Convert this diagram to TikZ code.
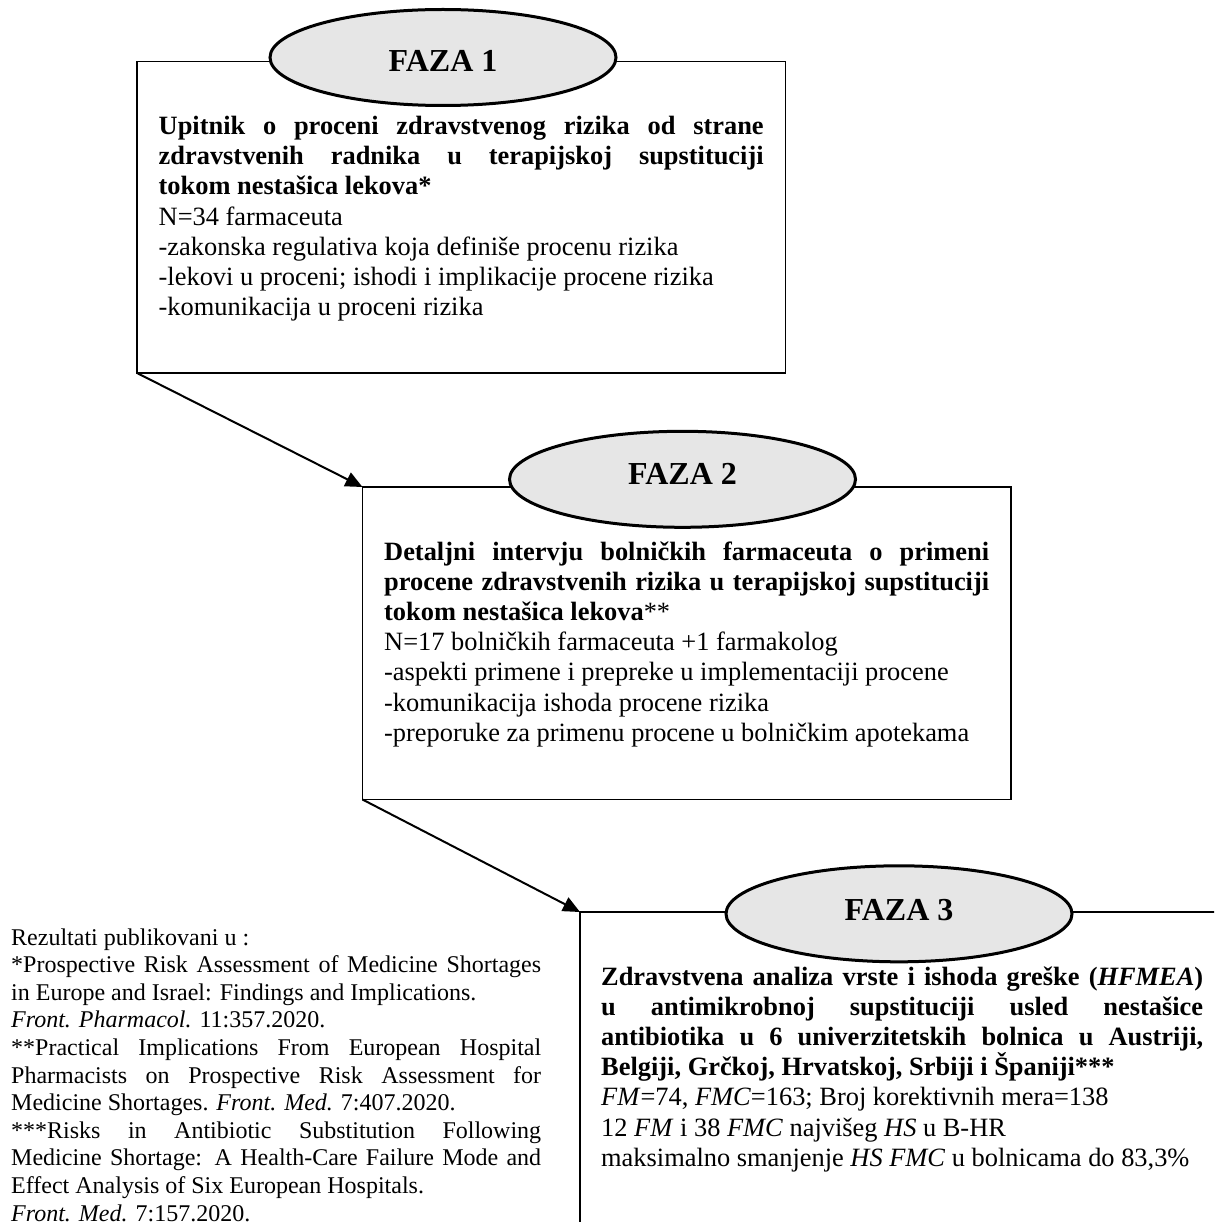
\documentclass[tikz,border=0pt]{standalone}
\usepackage{fontspec}
\setmainfont{Liberation Serif}
\usetikzlibrary{arrows.meta,shapes.geometric}
\definecolor{ellfill}{HTML}{E6E6E6}
\begin{document}
\begin{tikzpicture}[x=1pt,y=-1pt,
  boxnode/.style={draw, line width=1.6pt, minimum width=648.5pt, inner sep=0pt, outer sep=0pt, anchor=north west},
  phase/.style={ellipse, draw, line width=3pt, fill=ellfill, minimum width=346pt, minimum height=96pt, inner sep=0pt, outer sep=0pt},
  phasetext/.style={anchor=base, inner sep=0pt, font=\fontsize{32}{36}\selectfont\bfseries},
  bodytext/.style={anchor=base west, inner sep=0pt, font=\fontsize{26.4}{30.2}\selectfont},
  notetext/.style={anchor=base west, inner sep=0pt, font=\fontsize{24}{27.6}\selectfont},
  conn/.style={line width=2pt, -{Triangle[length=17pt,width=15pt]}},
]
\useasboundingbox[fill=white] (0,0) rectangle (1214,1222);
\clip (0,0) rectangle (1214,1222);

% boxes
\node[boxnode, minimum height=311.3pt] (b1) at (137,61.7) {};
\node[boxnode, minimum height=312.5pt] (b2) at (362.5,487) {};
\node[boxnode, minimum height=400pt] (b3) at (580,912) {};

% phase ellipses
\node[phase] (e1) at (443,57.5) {};
\node[phasetext] (p1) at (443,72) {FAZA 1};
\node[phase] (e2) at (682.5,479.3) {};
\node[phasetext] (p2) at (682.5,484) {FAZA 2};
\node[phase] (e3) at (899,913.8) {};
\node[phasetext] (p3) at (899,920.5) {FAZA 3};

% box texts
\node[bodytext] (t1) at (158.5,134.5) {\begin{minipage}[t]{605pt}
\textbf{Upitnik o proceni zdravstvenog rizika od strane\linebreak zdravstvenih radnika u terapijskoj supstituciji\linebreak tokom nestašica lekova*}\par
N=34 farmaceuta\par
-zakonska regulativa koja definiše procenu rizika\par
-lekovi u proceni; ishodi i implikacije procene rizika\par
-komunikacija u proceni rizika
\end{minipage}};

\node[bodytext] (t2) at (384,560) {\begin{minipage}[t]{605pt}
\textbf{Detaljni intervju bolničkih farmaceuta o primeni\linebreak procene zdravstvenih rizika u terapijskoj supstituciji\linebreak tokom nestašica lekova}**\par
N=17 bolničkih farmaceuta +1 farmakolog\par
-aspekti primene i prepreke u implementaciji procene\par
-komunikacija ishoda procene rizika\par
-preporuke za primenu procene u bolničkim apotekama
\end{minipage}};

\node[bodytext] (t3) at (601,985) {\begin{minipage}[t]{602pt}
\textbf{Zdravstvena analiza vrste i ishoda greške (\textit{HFMEA})\linebreak u antimikrobnoj supstituciji usled nestašice\linebreak antibiotika u 6 univerzitetskih bolnica u Austriji,\linebreak Belgiji, Grčkoj, Hrvatskoj, Srbiji i Španiji***}\par
\textit{FM}=74, \textit{FMC}=163; Broj korektivnih mera=138\par
12 \textit{FM} i 38 \textit{FMC} najvišeg \textit{HS} u B-HR\par
maksimalno smanjenje \textit{HS FMC} u bolnicama do 83,3\%
\end{minipage}};

% footnote
\node[notetext] (fn) at (11,945) {\begin{minipage}[t]{530pt}
Rezultati publikovani u :\par
*Prospective Risk Assessment of Medicine Shortages\linebreak in Europe and Israel: Findings and Implications.\\
\textit{Front. Pharmacol.} 11:357.2020.\par
**Practical Implications From European Hospital\linebreak Pharmacists on Prospective Risk Assessment for\linebreak Medicine Shortages. \textit{Front. Med.} 7:407.2020.\par
***Risks in Antibiotic Substitution Following\linebreak Medicine Shortage: A Health-Care Failure Mode and\linebreak Effect Analysis of Six European Hospitals.\\
\textit{Front. Med.} 7:157.2020.
\end{minipage}};

% connectors
\draw[conn] (b1.south west) -- (b2.north west);
\draw[conn] (b2.south west) -- (b3.north west);
\end{tikzpicture}
\end{document}
